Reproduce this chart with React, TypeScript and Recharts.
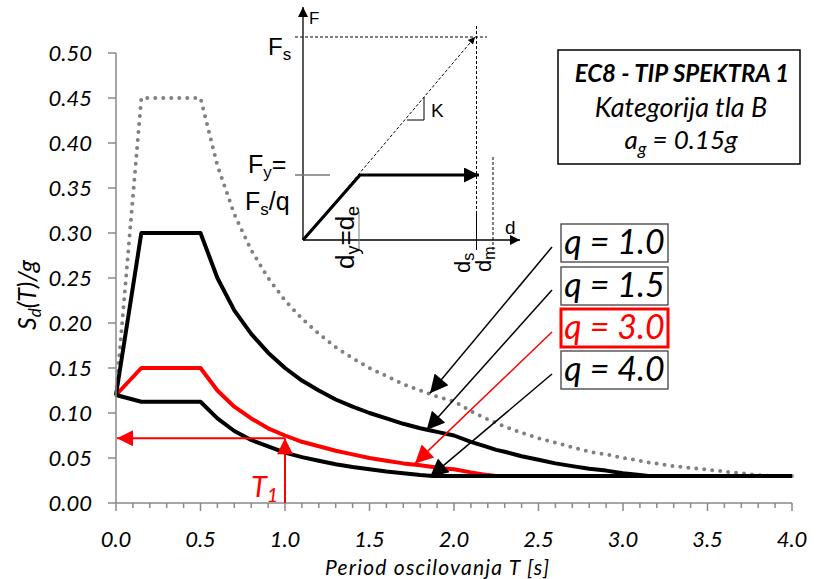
import { Line, LineChart, XAxis, YAxis } from "recharts";

// period T [s]
const T = [0, 0.15, 0.5, 0.6, 0.7, 0.8, 0.9, 1.0, 1.1, 1.2, 1.3, 1.4, 1.5, 1.6, 1.7, 1.8, 1.875, 1.9, 2.0, 2.1, 2.2, 2.25, 2.3, 2.4, 2.5, 2.6, 2.7, 2.8, 2.9, 3.0, 3.1, 3.15, 3.2, 3.3, 3.4, 3.5, 3.6, 3.7, 3.8, 3.87, 4.0];

// Sd(T)/g for each behaviour factor
const Q10 = [0.12, 0.45, 0.45, 0.375, 0.321, 0.281, 0.25, 0.225, 0.205, 0.188, 0.173, 0.161, 0.15, 0.141, 0.132, 0.125, 0.12, 0.118, 0.113, 0.102, 0.093, 0.089, 0.085, 0.078, 0.072, 0.067, 0.062, 0.057, 0.054, 0.05, 0.047, 0.045, 0.044, 0.041, 0.039, 0.037, 0.035, 0.033, 0.031, 0.03, 0.03];
const Q15 = [0.12, 0.3, 0.3, 0.25, 0.214, 0.188, 0.167, 0.15, 0.136, 0.125, 0.115, 0.107, 0.1, 0.094, 0.088, 0.083, 0.08, 0.079, 0.075, 0.068, 0.062, 0.059, 0.057, 0.052, 0.048, 0.044, 0.041, 0.038, 0.036, 0.033, 0.031, 0.03, 0.03, 0.03, 0.03, 0.03, 0.03, 0.03, 0.03, 0.03, 0.03];
const Q30 = [0.12, 0.15, 0.15, 0.125, 0.107, 0.094, 0.083, 0.075, 0.068, 0.063, 0.058, 0.054, 0.05, 0.047, 0.044, 0.042, 0.04, 0.039, 0.0375, 0.034, 0.031, 0.03, 0.03, 0.03, 0.03, 0.03, 0.03, 0.03, 0.03, 0.03, 0.03, 0.03, 0.03, 0.03, 0.03, 0.03, 0.03, 0.03, 0.03, 0.03, 0.03];
const Q40 = [0.12, 0.1125, 0.1125, 0.094, 0.08, 0.07, 0.063, 0.056, 0.051, 0.047, 0.043, 0.04, 0.0375, 0.035, 0.033, 0.031, 0.03, 0.03, 0.03, 0.03, 0.03, 0.03, 0.03, 0.03, 0.03, 0.03, 0.03, 0.03, 0.03, 0.03, 0.03, 0.03, 0.03, 0.03, 0.03, 0.03, 0.03, 0.03, 0.03, 0.03, 0.03];

const X_TICKS = [0, 0.1, 0.2, 0.3, 0.4, 0.5, 0.6, 0.7, 0.8, 0.9, 1.0, 1.1, 1.2, 1.3, 1.4, 1.5, 1.6, 1.7, 1.8, 1.9, 2.0, 2.1, 2.2, 2.3, 2.4, 2.5, 2.6, 2.7, 2.8, 2.9, 3.0, 3.1, 3.2, 3.3, 3.4, 3.5, 3.6, 3.7, 3.8, 3.9, 4.0];
const Y_TICKS = [0, 0.05, 0.1, 0.15, 0.2, 0.25, 0.3, 0.35, 0.4, 0.45, 0.5];

const Q_LABELS = ["q = 1.0", "q = 1.5", "q = 3.0", "q = 4.0"];
const Q_COLORS = ["#000", "#000", "#ff0000", "#000"];
// where each legend arrow touches its curve [T, Sd/g]
const Q_TIPS = [[1.858, 0.122], [1.838, 0.081], [1.769, 0.044], [1.858, 0.029]];
const T1 = 1.0;
const T1_SD = 0.072;

const rows = T.map((t, i) => ({ t, q10: Q10[i], q15: Q15[i], q30: Q30[i], q40: Q40[i] }));

// plot area (px)
const PL = 116, PR = 792, PT = 53, PB = 503;
const sx = (t) => PL + (t / 4) * (PR - PL);
const sy = (v) => PB - (v / 0.5) * (PB - PT);

const AXIS = "#898989";
const FONT = "Lato, 'Open Sans', sans-serif";
const ARIAL = "'Liberation Sans', Arial, sans-serif";

function XTick({ x, payload }) {
  const v = payload.value;
  const major = Math.abs(v * 2 - Math.round(v * 2)) < 1e-6;
  return (
    <g>
      <line x1={x} x2={x} y1={PB} y2={PB + (major ? 8 : 5)} stroke={AXIS} strokeWidth={1.5} />
      {major && (
        <text x={x} y={547} textAnchor="middle" fontFamily={FONT} fontStyle="italic" fontSize={22} fill="#000">
          {v.toFixed(1)}
        </text>
      )}
    </g>
  );
}

function YTick({ y, payload }) {
  return (
    <g>
      <line x1={PL - 8} x2={PL} y1={y} y2={y} stroke={AXIS} strokeWidth={1.5} />
      <text x={92} y={y + 8} textAnchor="end" fontFamily={FONT} fontStyle="italic" fontSize={22} fill="#000">
        {payload.value.toFixed(2)}
      </text>
    </g>
  );
}

function Overlay() {
  const boxTops = [224, 267, 309, 351];
  return (
    <svg width={819} height={579} style={{ position: "absolute", left: 0, top: 0, pointerEvents: "none" }}>
      <defs>
        <marker id="ahB" viewBox="0 0 10 10" refX="10" refY="5" markerWidth="20" markerHeight="18" orient="auto" markerUnits="userSpaceOnUse">
          <path d="M0,0 L10,5 L0,10 z" fill="#000" />
        </marker>
        <marker id="ahR" viewBox="0 0 10 10" refX="10" refY="5" markerWidth="20" markerHeight="18" orient="auto" markerUnits="userSpaceOnUse">
          <path d="M0,0 L10,5 L0,10 z" fill="#ff0000" />
        </marker>
        <marker id="ahRbig" viewBox="0 0 10 10" refX="10" refY="5" markerWidth="23" markerHeight="16" orient="auto" markerUnits="userSpaceOnUse">
          <path d="M0,0 L10,5 L0,10 z" fill="#ff0000" />
        </marker>
        <marker id="ahAx" viewBox="0 0 10 10" refX="10" refY="5" markerWidth="10" markerHeight="10" orient="auto" markerUnits="userSpaceOnUse">
          <path d="M0,0 L10,5 L0,10 z" fill="#000" />
        </marker>
        <marker id="ahThick" viewBox="0 0 10 10" refX="10" refY="5" markerWidth="15" markerHeight="15" orient="auto" markerUnits="userSpaceOnUse">
          <path d="M0,0 L10,5 L0,10 z" fill="#000" />
        </marker>
        <marker id="ahDiag" viewBox="0 0 10 10" refX="10" refY="5" markerWidth="9" markerHeight="7" orient="auto" markerUnits="userSpaceOnUse">
          <path d="M0,0 L10,5 L0,10 z" fill="#000" />
        </marker>
      </defs>

      {/* T1 red arrows */}
      <line x1={sx(T1)} y1={PB} x2={sx(T1)} y2={sy(T1_SD)} stroke="#ff0000" strokeWidth={2} markerEnd="url(#ahRbig)" />
      <line x1={sx(T1)} y1={sy(T1_SD)} x2={sx(0) + 1} y2={sy(T1_SD)} stroke="#ff0000" strokeWidth={2} markerEnd="url(#ahRbig)" />
      <text x={251} y={497} fontFamily={FONT} fontStyle="italic" fontSize={29} fill="#ff0000">
        T<tspan fontSize={20} dy={5}>1</tspan>
      </text>

      {/* inset F-d diagram */}
      <g stroke="#000" fill="none">
        <line x1={303} y1={240} x2={303} y2={7} strokeWidth={1.3} markerEnd="url(#ahAx)" />
        <line x1={303} y1={240} x2={520} y2={240} strokeWidth={1.3} markerEnd="url(#ahAx)" />
        <line x1={295} y1={37} x2={487} y2={37} strokeWidth={1} strokeDasharray="3 2" />
        <line x1={303} y1={240} x2={475} y2={37} strokeWidth={1} strokeDasharray="3 2" markerEnd="url(#ahDiag)" />
        <line x1={476.5} y1={26} x2={476.5} y2={212} strokeWidth={1} strokeDasharray="3 2" />
        <line x1={476.5} y1={212} x2={476.5} y2={250} strokeWidth={1} />
        <line x1={493} y1={157} x2={493} y2={250} strokeWidth={1} strokeDasharray="3 2" />
        <polyline points="303,240 360,175 479,175" strokeWidth={3.2} markerEnd="url(#ahThick)" />
        <line x1={295} y1={175} x2={330} y2={175} stroke="#777" strokeWidth={1.5} />
        <line x1={359} y1={212} x2={359} y2={250} stroke="#777" strokeWidth={1} />
        <polyline points="407,120 424,120 424,97" strokeWidth={1} />
      </g>
      <g fontFamily={ARIAL} fill="#000">
        <text x={309} y={24} fontSize={17}>F</text>
        <text x={505} y={234} fontSize={19}>d</text>
        <text x={431} y={117} fontSize={19}>K</text>
        <text x={268} y={55} fontSize={24}>
          F<tspan fontSize={17} dy={5}>s</tspan>
        </text>
        <text x={248} y={173} fontSize={25}>
          F<tspan fontSize={17} dy={5}>y</tspan>
          <tspan dy={-5}>=</tspan>
        </text>
        <text x={245} y={210} fontSize={25}>
          F<tspan fontSize={17} dy={5}>s</tspan>
          <tspan dy={-5}>/q</tspan>
        </text>
        <text transform="translate(354,269) rotate(-90)" fontSize={26}>
          d<tspan fontSize={18} dy={5}>y</tspan>
          <tspan dy={-5}>=d</tspan>
          <tspan fontSize={18} dy={5}>e</tspan>
        </text>
        <text transform="translate(470,273) rotate(-90)" fontSize={22}>
          d<tspan fontSize={16} dy={4}>s</tspan>
        </text>
        <text transform="translate(491,272) rotate(-90)" fontSize={22}>
          d<tspan fontSize={16} dy={4}>m</tspan>
        </text>
      </g>

      {/* info box */}
      <rect x={558} y={50} width={242} height={114} fill="#fff" stroke="#000" strokeWidth={1.5} />
      <g fontFamily={FONT} fontStyle="italic" fill="#000" textAnchor="middle">
        <text x={682} y={82} fontSize={24} fontWeight="bold">EC8 - TIP SPEKTRA 1</text>
        <text x={681} y={117} fontSize={27}>Kategorija tla B</text>
        <text x={681} y={149} fontSize={26}>
          a<tspan fontSize={18} dy={6}>g</tspan>
          <tspan dy={-6}> = 0.15g</tspan>
        </text>
      </g>

      {/* legend boxes + arrows */}
      {Q_LABELS.map((lab, i) => {
        const red = Q_COLORS[i] !== "#000";
        const top = boxTops[i];
        return (
          <g key={lab}>
            <line
              x1={552}
              y1={top + 23}
              x2={sx(Q_TIPS[i][0])}
              y2={sy(Q_TIPS[i][1])}
              stroke={Q_COLORS[i]}
              strokeWidth={1.5}
              markerEnd={red ? "url(#ahR)" : "url(#ahB)"}
            />
            <rect
              x={561}
              y={top}
              width={107}
              height={38}
              fill="#fff"
              stroke={red ? "#ff0000" : "#404040"}
              strokeWidth={red ? 3 : 1.3}
            />
            <text x={614.5} y={top + 30} textAnchor="middle" fontFamily={FONT} fontStyle="italic" fontSize={34} fill={Q_COLORS[i]}>
              {lab}
            </text>
          </g>
        );
      })}

      {/* axis titles */}
      <text transform="translate(36,295) rotate(-90)" textAnchor="middle" fontFamily={FONT} fontStyle="italic" fontSize={25} fill="#000">
        S<tspan fontSize={17} dy={5}>d</tspan>
        <tspan dy={-5}>(T)/g</tspan>
      </text>
      <text x={437} y={575} textAnchor="middle" fontFamily={FONT} fontStyle="italic" fontSize={21} textLength={224} lengthAdjust="spacing" fill="#000">
        Period oscilovanja T [s]
      </text>
    </svg>
  );
}

export default function App() {
  return (
    <div style={{ position: "absolute", left: 0, top: 0, width: 819, height: 579, background: "#fff" }}>
      <LineChart width={819} height={579} data={rows} margin={{ top: PT, right: 819 - PR, bottom: 26, left: 26 }}>
        <XAxis
          type="number"
          dataKey="t"
          domain={[0, 4]}
          ticks={X_TICKS}
          interval={0}
          height={50}
          tickLine={false}
          axisLine={{ stroke: AXIS, strokeWidth: 1.5 }}
          tick={(p) => <XTick {...p} />}
        />
        <YAxis
          type="number"
          domain={[0, 0.5]}
          ticks={Y_TICKS}
          interval={0}
          width={90}
          tickLine={false}
          axisLine={{ stroke: AXIS, strokeWidth: 1.5 }}
          tick={(p) => <YTick {...p} />}
        />
        <Line dataKey="q10" type="linear" stroke="#808080" strokeWidth={4} strokeDasharray="0 8" strokeLinecap="round" dot={false} activeDot={false} isAnimationActive={false} />
        <Line dataKey="q30" type="linear" stroke="#ff0000" strokeWidth={4} strokeLinejoin="round" dot={false} activeDot={false} isAnimationActive={false} />
        <Line dataKey="q15" type="linear" stroke="#000" strokeWidth={4} strokeLinejoin="round" dot={false} activeDot={false} isAnimationActive={false} />
        <Line dataKey="q40" type="linear" stroke="#000" strokeWidth={4} strokeLinejoin="round" dot={false} activeDot={false} isAnimationActive={false} />
      </LineChart>
      <Overlay />
    </div>
  );
}
